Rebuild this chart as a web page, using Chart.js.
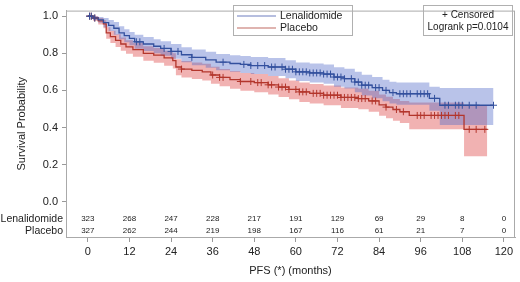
<!DOCTYPE html>
<html>
<head>
<meta charset="utf-8">
<script src="https://cdn.jsdelivr.net/npm/chart.js@4.4.1/dist/chart.umd.min.js"></script>
<style>
  html, body { margin:0; padding:0; background:#fff; }
  #wrap { width:520px; height:282px; position:relative; }
</style>
</head>
<body>
<div id="wrap"><canvas id="km"></canvas></div>
<script>
// axis ticks
const xTicks = [0,12,24,36,48,60,72,84,96,108,120];
const yTicks = [0,0.2,0.4,0.6,0.8,1.0];

// Lenalidomide KM estimate + 95% band
const lenTime  = [0,1.5,3,4.5,6,7.5,9,10.5,12,13.5,16,19,21,24,27,30,34,37,41,44,47,52,57,60,64,68,71,74,77,79,82,85,87,89,98.5,101.5,117];
const lenSurv  = [1,0.99,0.98,0.965,0.95,0.935,0.91,0.895,0.88,0.862,0.85,0.838,0.826,0.81,0.792,0.778,0.765,0.752,0.745,0.74,0.734,0.726,0.714,0.70,0.694,0.688,0.672,0.663,0.645,0.628,0.615,0.60,0.588,0.582,0.557,0.52,0.52];
const lenUpper = [1,1,0.995,0.99,0.98,0.968,0.945,0.93,0.915,0.9,0.888,0.876,0.865,0.85,0.832,0.82,0.808,0.796,0.79,0.786,0.78,0.774,0.763,0.75,0.745,0.74,0.725,0.716,0.70,0.684,0.672,0.658,0.647,0.642,0.62,0.613,0.613];
const lenLower = [1,0.98,0.965,0.94,0.92,0.9,0.875,0.86,0.843,0.825,0.812,0.8,0.787,0.77,0.752,0.736,0.722,0.708,0.7,0.694,0.688,0.678,0.665,0.65,0.643,0.636,0.62,0.61,0.59,0.572,0.558,0.542,0.53,0.523,0.49,0.413,0.413];
const lenCensor = [0.5,1,2,14,15,22,24,26,30,39,45,47,49,51,53,54,56,57,58,59,60,61,62,63,64,65,66,67,68,69,70,71,72,73,74,76,77,78,79,80,81,83,84,86,88,90,91,92,93,95,96,97,98,100,103,104,106,107,108,110,112,117];

// Placebo KM estimate + 95% band
const plaTime  = [0,1.5,3,4.5,5.3,6.5,8,9.5,11,13,16,19,22,24.5,25.4,27,30,33,35.5,38,41,44,48,52,55,58,61,64,68,73,78,81,84,86,88,90,92.7,108.5,115.2];
const plaSurv  = [1,0.99,0.975,0.958,0.91,0.89,0.87,0.85,0.835,0.82,0.80,0.79,0.775,0.76,0.726,0.715,0.708,0.70,0.683,0.67,0.658,0.648,0.642,0.63,0.618,0.605,0.592,0.584,0.574,0.562,0.556,0.543,0.522,0.51,0.497,0.485,0.465,0.39,0.39];
const plaUpper = [1,1,0.99,0.978,0.94,0.922,0.903,0.885,0.87,0.856,0.838,0.828,0.814,0.8,0.768,0.758,0.75,0.743,0.727,0.715,0.704,0.694,0.689,0.678,0.666,0.654,0.642,0.635,0.626,0.615,0.61,0.598,0.578,0.566,0.554,0.543,0.535,0.517,0.517];
const plaLower = [1,0.975,0.955,0.935,0.878,0.856,0.834,0.813,0.797,0.781,0.76,0.749,0.733,0.718,0.682,0.67,0.662,0.654,0.636,0.622,0.609,0.598,0.59,0.578,0.565,0.552,0.538,0.53,0.52,0.505,0.498,0.485,0.463,0.45,0.436,0.424,0.39,0.245,0.245];
const plaCensor = [0.5,1,2,27,36,38,39,44,47,49,50,52,53,55,56,57,58,60,61,62,63,65,66,67,68,69,70,71,72,73,74,75,76,77,78,79,80,82,83,86,89,91,95,96,97,99,100,101,102,103,104,106,107,110,112,114.5];

// number at risk
const riskTimes = [0,12,24,36,48,60,72,84,96,108,120];
const lenRisk = [323,268,247,228,217,191,129,69,29,8,0];
const plaRisk = [327,262,244,219,198,167,116,61,21,7,0];

const BLUE = '#33509e', RED = '#b3362c';
const FONT = '"Liberation Sans", Arial, sans-serif';

const pts = (xs, ys) => xs.map((x,i)=>({x, y:ys[i]}));
function survAt(times, surv, t){
  let k = 0;
  for(let i=0;i<times.length;i++){ if(times[i] <= t) k = i; }
  return surv[k];
}
const censorPts = (c, times, surv) => c.map(t=>({x:t, y:survAt(times, surv, t)}));

const frameAndText = {
  id:'frameAndText',
  afterDraw(chart){
    const {ctx, chartArea:a, scales:{x}} = chart;
    ctx.save();
    // box round the plot
    ctx.strokeStyle = '#aaaaaa'; ctx.lineWidth = 1;
    ctx.strokeRect(a.left+0.5, a.top+0.5, a.right-a.left-1, a.bottom-a.top);

    // risk table
    ctx.fillStyle = '#222';
    ctx.font = '8px ' + FONT;
    ctx.textAlign = 'center'; ctx.textBaseline = 'middle';
    riskTimes.forEach((t,i)=>{
      const px = x.getPixelForValue(t);
      ctx.fillText(String(lenRisk[i]), px, a.bottom-18);
      ctx.fillText(String(plaRisk[i]), px, a.bottom-6);
    });
    ctx.font = '10.5px ' + FONT;
    ctx.textAlign = 'right';
    ctx.fillText('Lenalidomide', a.left-3, a.bottom-18);
    ctx.fillText('Placebo', a.left-3, a.bottom-6);

    // legend
    ctx.strokeStyle = '#b0b0b0';
    ctx.strokeRect(233.5, 5.5, 119, 30);
    ctx.lineWidth = 1.2;
    ctx.strokeStyle = '#6f7fbf';
    ctx.beginPath(); ctx.moveTo(237,16); ctx.lineTo(276,16); ctx.stroke();
    ctx.strokeStyle = '#c06a62';
    ctx.beginPath(); ctx.moveTo(237,28); ctx.lineTo(276,28); ctx.stroke();
    ctx.font = '10.5px ' + FONT;
    ctx.textAlign = 'left';
    ctx.fillText('Lenalidomide', 280, 16);
    ctx.fillText('Placebo', 280, 28);

    // censored / logrank box
    ctx.lineWidth = 1;
    ctx.strokeStyle = '#b0b0b0';
    ctx.strokeRect(423.5, 5.5, 89, 30);
    ctx.font = '10px ' + FONT;
    ctx.textAlign = 'center';
    ctx.fillText('+ Censored', 468, 15);
    ctx.fillText('Logrank p=0.0104', 468, 27);
    ctx.restore();
  }
};

const band = (label, up, lo, times, color) => ([
  { label: label+' upper', data: pts(times, up), stepped:true, borderWidth:0, pointRadius:0,
    fill:'+1', backgroundColor: color, order:3 },
  { label: label+' lower', data: pts(times, lo), stepped:true, borderWidth:0, pointRadius:0,
    fill:false, order:3 }
]);

new Chart(document.getElementById('km'), {
  type:'line',
  data:{
    datasets:[
      ...band('Lenalidomide', lenUpper, lenLower, lenTime, 'rgba(80,104,200,0.40)'),
      ...band('Placebo', plaUpper, plaLower, plaTime, 'rgba(222,72,72,0.42)'),
      { label:'Lenalidomide', data: pts(lenTime, lenSurv), stepped:true, borderColor:BLUE,
        borderWidth:1.3, pointRadius:0, fill:false, order:1 },
      { label:'Placebo', data: pts(plaTime, plaSurv), stepped:true, borderColor:RED,
        borderWidth:1.3, pointRadius:0, fill:false, order:1 },
      { label:'Len censored', data: censorPts(lenCensor, lenTime, lenSurv), showLine:false,
        pointStyle:'cross', pointRadius:3.5, borderColor:BLUE, borderWidth:1, order:0 },
      { label:'Pla censored', data: censorPts(plaCensor, plaTime, plaSurv), showLine:false,
        pointStyle:'cross', pointRadius:3.5, borderColor:RED, borderWidth:1, order:0 }
    ]
  },
  options:{
    responsive:true,
    maintainAspectRatio:false,
    animation:false,
    layout:{ padding:{ left:0, right:3, top:3, bottom:0 } },
    plugins:{ legend:{ display:false }, tooltip:{ enabled:false } },
    scales:{
      x:{
        type:'linear', min:-6.3, max:123.2,
        afterBuildTicks: s => { s.ticks = xTicks.map(v=>({value:v})); },
        afterFit: s => { s.height = 45; },
        grid:{ drawOnChartArea:false, drawTicks:true, tickLength:5, color:'#999' },
        border:{ display:true, color:'#aaa' },
        ticks:{ color:'#222', font:{ family:FONT, size:11 }, padding:3, maxRotation:0 },
        title:{ display:true, text:'PFS (*) (months)', color:'#222',
                font:{ family:FONT, size:11 }, padding:{ top:0, bottom:4 } }
      },
      y:{
        min:-0.19, max:1.03,
        afterBuildTicks: s => { s.ticks = yTicks.map(v=>({value:v})); },
        afterFit: s => { s.width = 66; },
        grid:{ drawOnChartArea:false, drawTicks:true, tickLength:4, color:'#999' },
        border:{ display:true, color:'#aaa' },
        ticks:{ color:'#222', font:{ family:FONT, size:11 }, padding:4,
                callback: v => v.toFixed(1) },
        title:{ display:true, text:'Survival Probability', color:'#222',
                font:{ family:FONT, size:11 }, padding:{ top:15, bottom:0 } }
      }
    }
  },
  plugins:[frameAndText]
});
</script>
</body>
</html>
